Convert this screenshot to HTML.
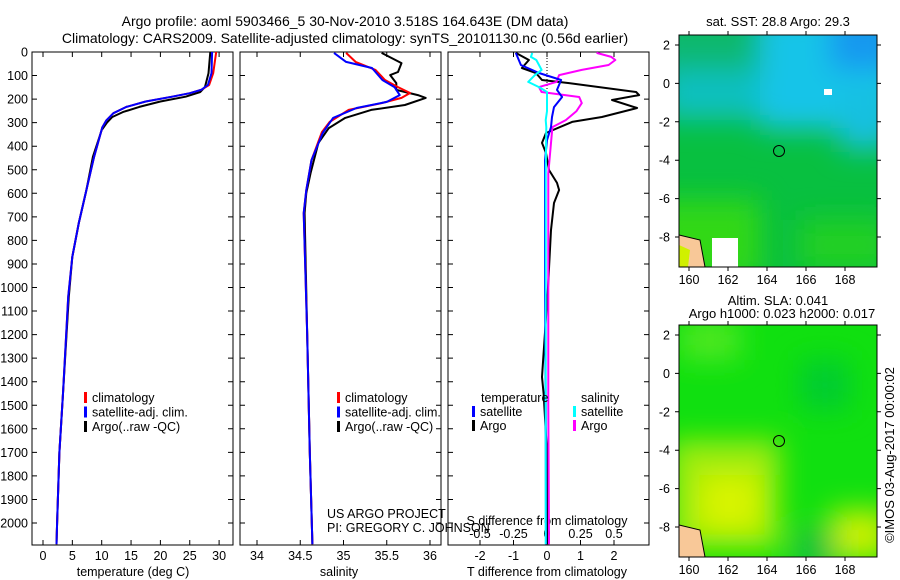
<!DOCTYPE html>
<html><head><meta charset="utf-8">
<style>
body{margin:0;background:#fff;}
svg{display:block;font-family:"Liberation Sans",sans-serif;}
</style></head>
<body>
<svg id="c" width="900" height="580" viewBox="0 0 900 580" xmlns="http://www.w3.org/2000/svg">
<defs>
<filter id="bl" x="-20%" y="-20%" width="140%" height="140%"><feGaussianBlur stdDeviation="14"/></filter>
<clipPath id="m1c"><rect x="679" y="35" width="198" height="232"/></clipPath>
<clipPath id="m2c"><rect x="679" y="325" width="198" height="232"/></clipPath>
</defs>
<text x="345" y="26" font-size="14" text-anchor="middle">Argo profile: aoml 5903466_5 30-Nov-2010 3.518S 164.643E (DM data)</text>
<text x="345" y="43" font-size="14" text-anchor="middle">Climatology: CARS2009. Satellite-adjusted climatology: synTS_20101130.nc (0.56d earlier)</text>

<g>
<text x="778" y="26" font-size="13" text-anchor="middle">sat. SST: 28.8 Argo: 29.3</text>
<g clip-path="url(#m1c)">
<rect x="679" y="35" width="198" height="232" fill="#08c040"/>
<g filter="url(#bl)">
<rect x="650" y="20" width="120" height="50" fill="#10b870"/>
<rect x="660" y="70" width="140" height="50" fill="#10c0c0"/>
<rect x="760" y="10" width="140" height="120" fill="#18c4e8"/>
<rect x="830" y="10" width="70" height="60" fill="#1898f0"/>
<rect x="840" y="90" width="50" height="60" fill="#18c0e0"/>
<rect x="650" y="200" width="110" height="80" fill="#30d818"/>
<rect x="800" y="220" width="90" height="50" fill="#20d020"/>
</g>
<rect x="824" y="89" width="8" height="6" fill="#fff"/>
<rect x="712" y="238" width="26" height="30" fill="#fff"/>
<path d="M679 235 L700 240 L705 267 L679 267Z" fill="#f8c898" stroke="#000"/>
<path d="M679 245 L690 250 L688 267 L679 267Z" fill="#d0f000"/>
</g>
<rect x="679" y="35" width="198" height="232" fill="none" stroke="#000"/>
<circle cx="779" cy="151" r="5.5" fill="none" stroke="#000"/>
</g>

<g>
<text x="778" y="305" font-size="13" text-anchor="middle">Altim. SLA: 0.041</text>
<text x="782" y="318" font-size="13" text-anchor="middle">Argo h1000: 0.023 h2000: 0.017</text>
<g clip-path="url(#m2c)">
<rect x="679" y="325" width="198" height="232" fill="#10e010"/>
<g filter="url(#bl)">
<rect x="680" y="320" width="60" height="40" fill="#50e820"/>
<rect x="670" y="440" width="110" height="110" fill="#a0ec08"/>
<rect x="700" y="475" width="60" height="55" fill="#d8f400"/>
<rect x="830" y="510" width="60" height="50" fill="#c8f000"/>
<rect x="800" y="360" width="50" height="50" fill="#00cc30"/>
<rect x="795" y="530" width="40" height="40" fill="#08c040"/>
</g>
<path d="M679 525 L700 530 L705 557 L679 557Z" fill="#f8c898" stroke="#000"/>
</g>
<rect x="679" y="325" width="198" height="232" fill="none" stroke="#000"/>
<circle cx="779" cy="441" r="5.5" fill="none" stroke="#000"/>
</g>
<text transform="translate(894,455) rotate(-90)" font-size="13" text-anchor="middle">©IMOS 03-Aug-2017 00:00:02</text>

<text x="327" y="518" font-size="12.5">US ARGO PROJECT</text>
<text x="327" y="532" font-size="12.5">PI: GREGORY C. JOHNSON</text>
<g id="plots"></g>
</svg>
<script>
// ---- data ----
const depthTArgo=[0,90,148,170,190,210,233,255,276,300,331,445,586,726,870,1040,1450,1700,2000,2090];
const tempArgo=[28.5,28.2,27.6,26.8,24.3,20,16.4,13.6,11.8,10.9,10,8.5,7.4,6.1,5,4.4,3.4,2.8,2.4,2.3];
const depthTClim=[0,90,140,160,175,190,210,233,260,290,320,445,586,726,870,1040,1450,1700,2000,2090];
const tempClim=[29.5,29,28.3,27,25,22,17.5,14.2,12,10.8,10.1,8.7,7.4,6.1,5,4.3,3.4,2.8,2.4,2.3];
const tempSat=[28.8,28.7,28.1,27,25,22,17.5,14.2,12,10.8,10.1,8.7,7.4,6.1,5,4.3,3.4,2.8,2.4,2.3];
const depthSArgo=[4,47,85,98,132,161,183,195,225,246,280,323,386,514,599,684,1200,1700,2090];
const salArgo=[35.44,35.67,35.63,35.54,35.61,35.61,35.86,35.95,35.71,35.32,35.02,34.83,34.71,34.62,34.57,34.55,34.58,34.61,34.64];
const depthSClim=[4,42,76,119,149,174,195,217,246,297,340,459,586,684,1200,1700,2090];
const salClim=[35.03,35.14,35.37,35.48,35.63,35.77,35.67,35.44,35.06,34.84,34.75,34.63,34.57,34.54,34.58,34.61,34.64];
const depthSSat=[4,42,68,119,149,183,212,238,280,344,459,586,684,1200,1700,2090];
const salSat=[34.89,35.03,35.33,35.45,35.59,35.65,35.5,35.15,34.88,34.76,34.63,34.57,34.54,34.58,34.61,34.64];
const depthDiff=[4,34,68,89,119,132,170,183,204,238,276,297,344,386,429,501,556,586,641,756,1000,1380,1450,1700,2090];
const tdiffArgo=[-0.93,-0.54,-0.75,-0.33,-0.15,0.66,2.66,2.75,1.94,2.69,1.64,0.75,-0.03,-0.15,-0.03,0.06,0.3,0.36,0.21,0.12,0.03,-0.15,-0.1,0,0.02];
const depthDiffSat=[4,55,89,119,161,191,234,276,319,374,460,1000,1500,2090];
const tdiffSat=[-0.93,-0.78,-0.24,0.42,0.3,0.45,0.21,0.15,0.12,0,-0.06,-0.06,-0.04,-0.03];
const depthSdiff=[4,21,34,55,76,98,127,149,170,191,217,251,289,319,515,800,1500,2090];
const sdiffArgo=[0.37,0.48,0.51,0.46,0.26,0.09,0.07,-0.06,-0.04,0.24,0.26,0.22,0.14,0.04,0.01,0.01,0.01,0.015];
const sdiffSat=[-0.11,-0.12,-0.08,-0.06,-0.04,-0.09,-0.14,-0.06,0,0,0,0,-0.01,-0.005,-0.01,-0.01,-0.01,-0.01];
const depthTicks=[0,100,200,300,400,500,600,700,800,900,1000,1100,1200,1300,1400,1500,1600,1700,1800,1900,2000];
const tempTicks=[0,5,10,15,20,25,30];
const salTicks=[34,34.5,35,35.5,36];
const tdTicks=[-2,-1,0,1,2];
const sdTicks=[-0.5,-0.25,0,0.25,0.5];
const lonTicks=[160,162,164,166,168];
const latTicks=[2,0,-2,-4,-6,-8];

const NS='http://www.w3.org/2000/svg';
const g=document.getElementById('plots');
function mk(tag,attrs,parent){const e=document.createElementNS(NS,tag);for(const k in attrs)e.setAttribute(k,attrs[k]);(parent||g).appendChild(e);return e;}
const TOP=52,BOT=545;
const yD=d=>TOP+d*0.2355;
const xT=t=>43+t*5.87;
const xS=s=>257+(s-34)*86.5;
const xTd=v=>547+v*33.5;
const xSd=v=>547+v*134;
const xLon=l=>689+(l-160)*19.5;

const panels=[[32,233],[240,441],[448,649]];
panels.forEach((p,i)=>{
  const r=mk('rect',{x:p[0],y:TOP,width:p[1]-p[0],height:BOT-TOP,fill:'none',stroke:'#000'});
  
  
  depthTicks.forEach(d=>{
    const t=mk('path',{d:`M${p[0]} ${yD(d)}h5M${p[1]} ${yD(d)}h-5`,stroke:'#000'});
    
    
  });
});
depthTicks.forEach(d=>{
  const t=mk('text',{x:28,y:yD(d)+4.5,'font-size':12.5,'text-anchor':'end'});
  t.textContent=d;
  
  
});
function xticks(arr,fx,p,y,fmt,top){
  arr.forEach(v=>{
    const x=fx(v);
    const t=mk('path',{d:`M${x} ${BOT}v-5`+(top?`M${x} ${TOP}v5`:''),stroke:'#000'});
    
    
    const l=mk('text',{x:x,y:y,'font-size':12.5,'text-anchor':'middle'});
    l.textContent=fmt?fmt(v):v;
    
    
  });
}
xticks(tempTicks,xT,panels[0],560,null,true);
xticks(salTicks,xS,panels[1],560,null,true);
xticks(tdTicks,xTd,panels[2],560,v=>v<0?'-'+(-v):v,false);
xticks(sdTicks,xSd,panels[2],538,null,true);
function label(txt,x,y,name,anchor){const t=mk('text',{x:x,y:y,'font-size':12.5,'text-anchor':anchor||'middle'});t.textContent=txt;}
label('temperature (deg C)',133,576,'x-axis-title-temperature');
label('salinity',339,576,'x-axis-title-salinity');
label('T difference from climatology',547,576,'x-axis-title-t-diff');
label('S difference from climatology',547,525,'x-axis-title-s-diff');

function line(xs,ds,fx,col,name,w){
  const pts=xs.map((v,i)=>fx(v).toFixed(1)+','+yD(ds[i]).toFixed(1)).join(' ');
  const l=mk('polyline',{points:pts,fill:'none',stroke:col,'stroke-width':w||2,'stroke-linejoin':'round'});
  
  
}
line(tempArgo,depthTArgo,xT,'#000','temp-argo-line');
line(tempClim,depthTClim,xT,'#f00','temp-climatology-line');
line(tempSat,depthTClim,xT,'#00f','temp-satellite-line');
line(salArgo,depthSArgo,xS,'#000','salinity-argo-line');
line(salClim,depthSClim,xS,'#f00','salinity-climatology-line');
line(salSat,depthSSat,xS,'#00f','salinity-satellite-line');
const zl=mk('path',{d:`M${xTd(0)} ${TOP}V110`,stroke:'#000','stroke-dasharray':'1,2'});


line(tdiffArgo,depthDiff,xTd,'#000','tdiff-argo-line');
line(sdiffArgo,depthSdiff,xSd,'#f0f','sdiff-argo-line');
line(tdiffSat,depthDiffSat,xTd,'#00f','tdiff-satellite-line');
line(sdiffSat,depthSdiff,xSd,'#0ff','sdiff-satellite-line');

function legend(x,y,col,txt,name){
  const m=mk('rect',{x:x,y:y-10,width:3,height:11,fill:col});
  
  
  label(txt,x+8,y,name,'start');
}
[['#f00','climatology'],['#00f','satellite-adj. clim.'],['#000','Argo(..raw -QC)']].forEach((e,i)=>{
  legend(84,402+i*14.5,e[0],e[1],'temp-legend-entry');
  legend(337,402+i*14.5,e[0],e[1],'sal-legend-entry');
});
label('temperature',481,402,'diff-legend-temperature-header','start');
label('salinity',581,402,'diff-legend-salinity-header','start');
legend(472,416,'#00f','satellite','diff-legend-entry');
legend(472,430,'#000','Argo','diff-legend-entry');
legend(573,416,'#0ff','satellite','diff-legend-entry');
legend(573,430,'#f0f','Argo','diff-legend-entry');

// map axes
[[35,267,45],[325,557,335]].forEach((m,mi)=>{
  lonTicks.forEach(l=>{
    const x=xLon(l);
    const t=mk('path',{d:`M${x} ${m[0]}v-4M${x} ${m[1]}v4`,stroke:'#000'});
    
    
    label(String(l),x,m[1]+17,'lon-label');
  });
  latTicks.forEach(a=>{
    const y=m[2]+(2-a)*19.2;
    const t=mk('path',{d:`M679 ${y}h-4M877 ${y}h4`,stroke:'#000'});
    
    
    label(String(a),670,y+4.5,'lat-label','end');
  });
});
</script>
</body></html>
